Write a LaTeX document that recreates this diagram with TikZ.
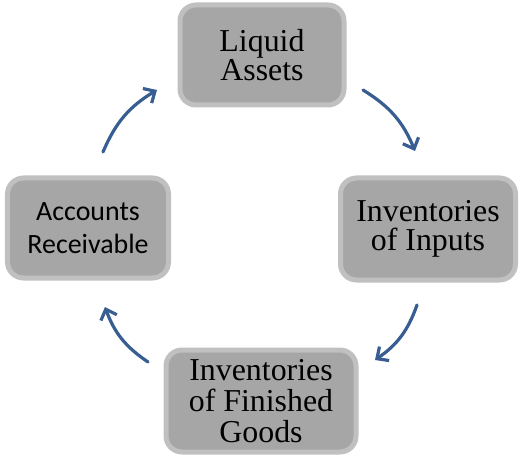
\documentclass[tikz,border=0pt]{standalone}
\usepackage{fontspec}
\setmainfont{Liberation Serif}
\newfontfamily\calibrifont{Carlito}
\usetikzlibrary{positioning, arrows.meta}
\definecolor{BoxGray}{RGB}{166, 166, 166}
\definecolor{EdgeGray}{RGB}{192, 192, 192}
\definecolor{FlowBlue}{RGB}{56, 94, 145}

\begin{document}
\begin{tikzpicture}[
    x=1bp, y=-1bp,
    stage/.style={rectangle, rounded corners=16bp, draw=EdgeGray, line width=5bp, fill=BoxGray,
      align=center, inner sep=0pt, font=\fontsize{32}{29}\selectfont},
    flow/.style={-{Straight Barb[length=9bp, width=17bp]}, draw=FlowBlue, line width=3.2bp, line cap=round}
  ]
    \useasboundingbox (0, 0) rectangle (523, 457);

    % Boxes
    \node[stage, minimum width=164bp, minimum height=100bp] (liquid) at (262, 55) {Liquid\\Assets};
    \node[stage, minimum width=175bp, minimum height=102bp] (inputs) at (428, 229) {Inventories\\of Inputs};
    \node[stage, minimum width=190bp, minimum height=102bp,
      font=\fontsize{32}{31}\selectfont] (finished) at (261, 401) {Inventories\\of Finished\\Goods};
    \node[stage, minimum width=161bp, minimum height=100bp,
      font=\calibrifont\fontsize{28}{33}\selectfont] (receivable) at (88, 228) {Accounts\\Receivable};

    % Arrow ends
    \coordinate (a1) at (103, 152);
    \coordinate (b1) at (157, 90);
    \coordinate (a2) at (363, 90);
    \coordinate (b2) at (415, 151);
    \coordinate (a3) at (417, 305);
    \coordinate (b3) at (375, 360);
    \coordinate (a4) at (148, 362);
    \coordinate (b4) at (105, 307);

    % Arrows
    \draw[flow] (a1) to[bend left=18] (b1);
    \draw[flow] (a2) to[bend left=18] (b2);
    \draw[flow] (a3) to[bend left=18] (b3);
    \draw[flow] (a4) to[bend left=18] (b4);
\end{tikzpicture}
\end{document}
